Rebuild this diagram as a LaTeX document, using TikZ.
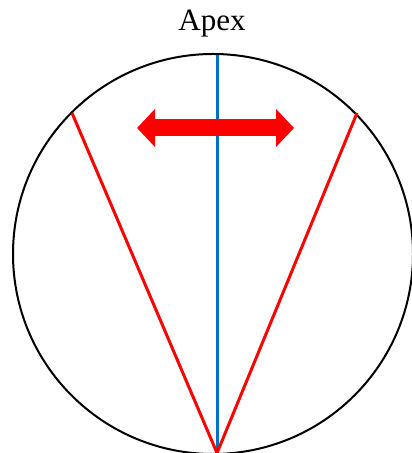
\documentclass[tikz,border=0pt]{standalone}
\usepackage{fontspec}
\setmainfont{Liberation Serif}
\usepackage{xcolor}
\usetikzlibrary{arrows.meta}
\definecolor{axisblue}{HTML}{0070C0}
\definecolor{swingred}{HTML}{FF0000}

\begin{document}
\begin{tikzpicture}[x=0.5pt, y=0.5pt,
    rim/.style={draw=black, line width=1pt},
    axisline/.style={draw=axisblue, line width=1.5pt},
    sideline/.style={draw=swingred, line width=1.5pt},
    swing/.style={draw=swingred, line width=8.5pt,
        {Triangle[length=9pt, width=18.5pt]}-{Triangle[length=9pt, width=18.5pt]}}]
    \useasboundingbox (0,0) rectangle (411,453);

    % --- outline ---
    \draw[rim] (213,199) circle (200);
    \node[font=\fontsize{15.5pt}{18pt}\selectfont, anchor=base] (apex) at (212,422) {Apex};

    % --- axis and sides ---
    \coordinate (base) at (217,0);
    \coordinate (top) at (217,398);
    \coordinate (sideL) at (72,340);
    \coordinate (sideR) at (357,340);
    \draw[axisline] (base) -- (top);
    \draw[sideline] (sideL) -- (base) -- (sideR);

    % --- swing arrow ---
    \coordinate (swingL) at (137,325);
    \coordinate (swingR) at (294,325);
    \draw[swing] (swingL) -- (swingR);
\end{tikzpicture}
\end{document}
